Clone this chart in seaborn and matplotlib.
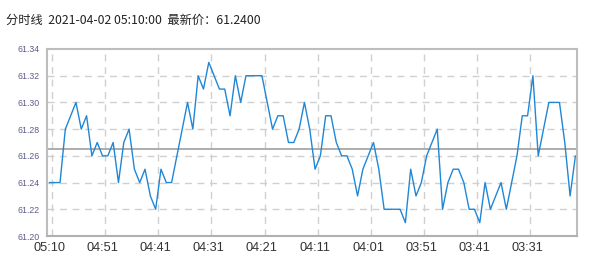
import matplotlib
matplotlib.use("Agg")
import matplotlib.pyplot as plt
import seaborn as sns
import pandas as pd
import numpy as np

prices = [61.24, 61.24, 61.24, 61.28, 61.29, 61.30, 61.28, 61.29, 61.26, 61.27,
          61.26, 61.26, 61.27, 61.24, 61.27, 61.28, 61.25, 61.24, 61.25, 61.23,
          61.22, 61.25, 61.24, 61.24, 61.26, 61.28, 61.30, 61.28, 61.32, 61.31,
          61.33, 61.32, 61.31, 61.31, 61.29, 61.32, 61.30, 61.32, 61.32, 61.32,
          61.32, 61.30, 61.28, 61.29, 61.29, 61.27, 61.27, 61.28, 61.30, 61.28,
          61.25, 61.26, 61.29, 61.29, 61.27, 61.26, 61.26, 61.25, 61.23, 61.25,
          61.26, 61.27, 61.25, 61.22, 61.22, 61.22, 61.22, 61.21, 61.25, 61.23,
          61.24, 61.26, 61.27, 61.28, 61.22, 61.24, 61.25, 61.25, 61.24, 61.22,
          61.22, 61.21, 61.24, 61.22, 61.23, 61.24, 61.22, 61.24, 61.26, 61.29,
          61.29, 61.32, 61.26, 61.28, 61.30, 61.30, 61.30, 61.27, 61.23, 61.26]
tick_labels = ["05:10", "04:51", "04:41", "04:31", "04:21", "04:11",
               "04:01", "03:51", "03:41", "03:31"]
y_ticks = [61.20, 61.22, 61.24, 61.26, 61.28, 61.30, 61.32, 61.34]
ref_price = 61.265
title = "分时线  2021-04-02 05:10:00  最新价：61.2400"

df = pd.DataFrame({"idx": np.arange(len(prices)), "price": prices})

sns.set_style("white")
plt.rcParams['font.family'] = ['Liberation Sans', 'Noto Sans CJK SC', 'DejaVu Sans']

fig = plt.figure(figsize=(5.94, 2.79), dpi=100)
ax = fig.add_axes([47/594, 1-236/279, (577-47)/594, (236-49)/279])

sns.lineplot(data=df, x="idx", y="price", ax=ax, color="#1f87d6", linewidth=1.0)

ax.axhline(ref_price, color="#a0a0a0", linewidth=1.2, zorder=1)

ax.set_xlim(-0.45, 99.3)
ax.set_ylim(61.20, 61.34)

# gridlines
for yv in y_ticks[1:-1]:
    ax.axhline(yv, color="#d0d0d0", linewidth=1.0, linestyle=(0, (5, 4)), zorder=0)
for k in range(len(tick_labels)):
    ax.axvline(10*k + 0.5, color="#d0d0d0", linewidth=1.0, linestyle=(0, (5, 4)), zorder=0)

ax.set_xticks([10*k for k in range(len(tick_labels))])
ax.set_xticklabels(tick_labels, fontsize=9.2, color="#333333")
ax.set_yticks(y_ticks)
ax.set_yticklabels([f"{v:.2f}" for v in y_ticks], fontsize=6.3, color="#5c5c8a")
ax.tick_params(axis="both", length=0)
ax.tick_params(axis="x", pad=4)
ax.tick_params(axis="y", pad=5)
ax.set_xlabel("")
ax.set_ylabel("")

for s in ax.spines.values():
    s.set_color("#bdbdbd")
    s.set_linewidth(1.5)
    s.set_visible(True)
ax.spines["bottom"].set_color("#b0b0b0")

fig.text(6/594, 1-20/279, title, fontsize=8.8, color="#222222",
         family=['Noto Sans CJK SC', 'DejaVu Sans'], va="center", ha="left")

fig.savefig("out.png", dpi=100)
